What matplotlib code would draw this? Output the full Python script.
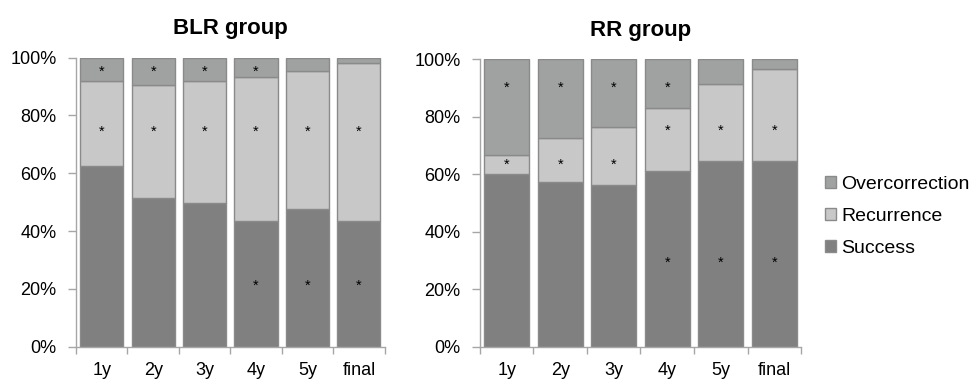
import matplotlib
matplotlib.use("Agg")
import matplotlib.pyplot as plt
from matplotlib.patches import Patch
import numpy as np

plt.rcParams['font.family'] = ['Liberation Sans', 'DejaVu Sans']

periods = ["1y", "2y", "3y", "4y", "5y", "final"]

# BLR group (% of patients)
blr_success = [62.6, 51.4, 49.8, 43.6, 47.8, 43.5]
blr_recurrence = [29.2, 39.0, 42.1, 49.8, 47.7, 54.8]
blr_overcorrection = [8.2, 9.6, 8.1, 6.6, 4.5, 1.7]

# RR group (% of patients)
rr_success = [60.0, 57.3, 56.1, 61.1, 64.5, 64.6]
rr_recurrence = [6.6, 15.3, 20.5, 21.8, 27.0, 32.0]
rr_overcorrection = [33.4, 27.4, 23.4, 17.1, 8.5, 3.4]

# significance marks (1 = asterisk shown)
blr_sig_success = [0, 0, 0, 1, 1, 1]
blr_sig_recurrence = [1, 1, 1, 1, 1, 1]
blr_sig_overcorrection = [1, 1, 1, 1, 0, 0]
rr_sig_success = [0, 0, 0, 1, 1, 1]
rr_sig_recurrence = [1, 1, 1, 1, 1, 1]
rr_sig_overcorrection = [1, 1, 1, 1, 0, 0]

# height where the asterisk label sits
blr_star_y_success = [22, 22, 22, 22, 22, 22]
blr_star_y_recurrence = [75, 75, 75, 75, 75, 75]
blr_star_y_overcorrection = [96, 96, 96, 96, 96, 96]
rr_star_y_success = [30, 30, 30, 30, 30, 30]
rr_star_y_recurrence = [64, 64, 64, 76, 76, 76]
rr_star_y_overcorrection = [91, 91, 91, 91, 91, 91]

c_success = "#808080"
c_recurrence = "#c8c8c8"
c_over = "#a0a2a1"
c_edge = "#8a8a8a"
c_axis = "#a6a6a6"


def draw(ax, title, success, recurrence, over, sig, star_y):
    x = np.arange(len(periods))
    w = 0.84
    s = np.array(success)
    r = np.array(recurrence)
    o = np.array(over)
    ax.bar(x, s, w, color=c_success, edgecolor=c_edge, linewidth=1)
    ax.bar(x, r, w, bottom=s, color=c_recurrence, edgecolor=c_edge, linewidth=1)
    ax.bar(x, o, w, bottom=s + r, color=c_over, edgecolor=c_edge, linewidth=1)
    for flags, ys in zip(sig, star_y):
        for i, (f, yy) in enumerate(zip(flags, ys)):
            if f:
                # the "*" glyph sits high in its box, so nudge it down a bit
                ax.annotate("*", (i, yy), xytext=(0, -1.6), textcoords="offset points",
                            ha="center", va="center", fontsize=10.5, color="black")
    ax.set_xlim(-0.5, len(periods) - 0.5)
    ax.set_ylim(0, 100)
    ax.set_yticks([0, 20, 40, 60, 80, 100])
    ax.set_yticklabels(["0%", "20%", "40%", "60%", "80%", "100%"])
    ax.set_xticks(x)
    ax.set_xticklabels(periods)
    ax.set_xticks(np.arange(-0.5, len(periods)), minor=True)
    ax.tick_params(axis="x", which="major", length=0, pad=11, labelsize=13)
    ax.tick_params(axis="x", which="minor", length=5, color=c_axis, width=1)
    ax.tick_params(axis="y", length=6, color=c_axis, width=1, pad=8, labelsize=13)
    for sp in ["top", "right"]:
        ax.spines[sp].set_visible(False)
    for sp in ["left", "bottom"]:
        ax.spines[sp].set_color(c_axis)
        ax.spines[sp].set_linewidth(1)
    ax.set_title(title, fontsize=16, fontweight="bold", pad=17)


fig = plt.figure(figsize=(9.7, 3.79), dpi=100)
ax1 = fig.add_axes([0.0784, 0.0852, 0.3181, 0.7626])
ax2 = fig.add_axes([0.4948, 0.0852, 0.3310, 0.7583])

draw(ax1, "BLR group", blr_success, blr_recurrence, blr_overcorrection,
     [blr_sig_success, blr_sig_recurrence, blr_sig_overcorrection],
     [blr_star_y_success, blr_star_y_recurrence, blr_star_y_overcorrection])
draw(ax2, "RR group", rr_success, rr_recurrence, rr_overcorrection,
     [rr_sig_success, rr_sig_recurrence, rr_sig_overcorrection],
     [rr_star_y_success, rr_star_y_recurrence, rr_star_y_overcorrection])

handles = [Patch(facecolor=c_over, edgecolor=c_edge),
           Patch(facecolor=c_recurrence, edgecolor=c_edge),
           Patch(facecolor=c_success, edgecolor=c_edge)]
fig.legend(handles, ["Overcorrection", "Recurrence", "Success"],
           loc="center left", bbox_to_anchor=(0.851, 0.429), frameon=False,
           fontsize=14, handlelength=0.55, handleheight=0.55, handletextpad=0.25,
           labelspacing=0.78, borderaxespad=0, borderpad=0)

fig.savefig("out.png", dpi=100)
